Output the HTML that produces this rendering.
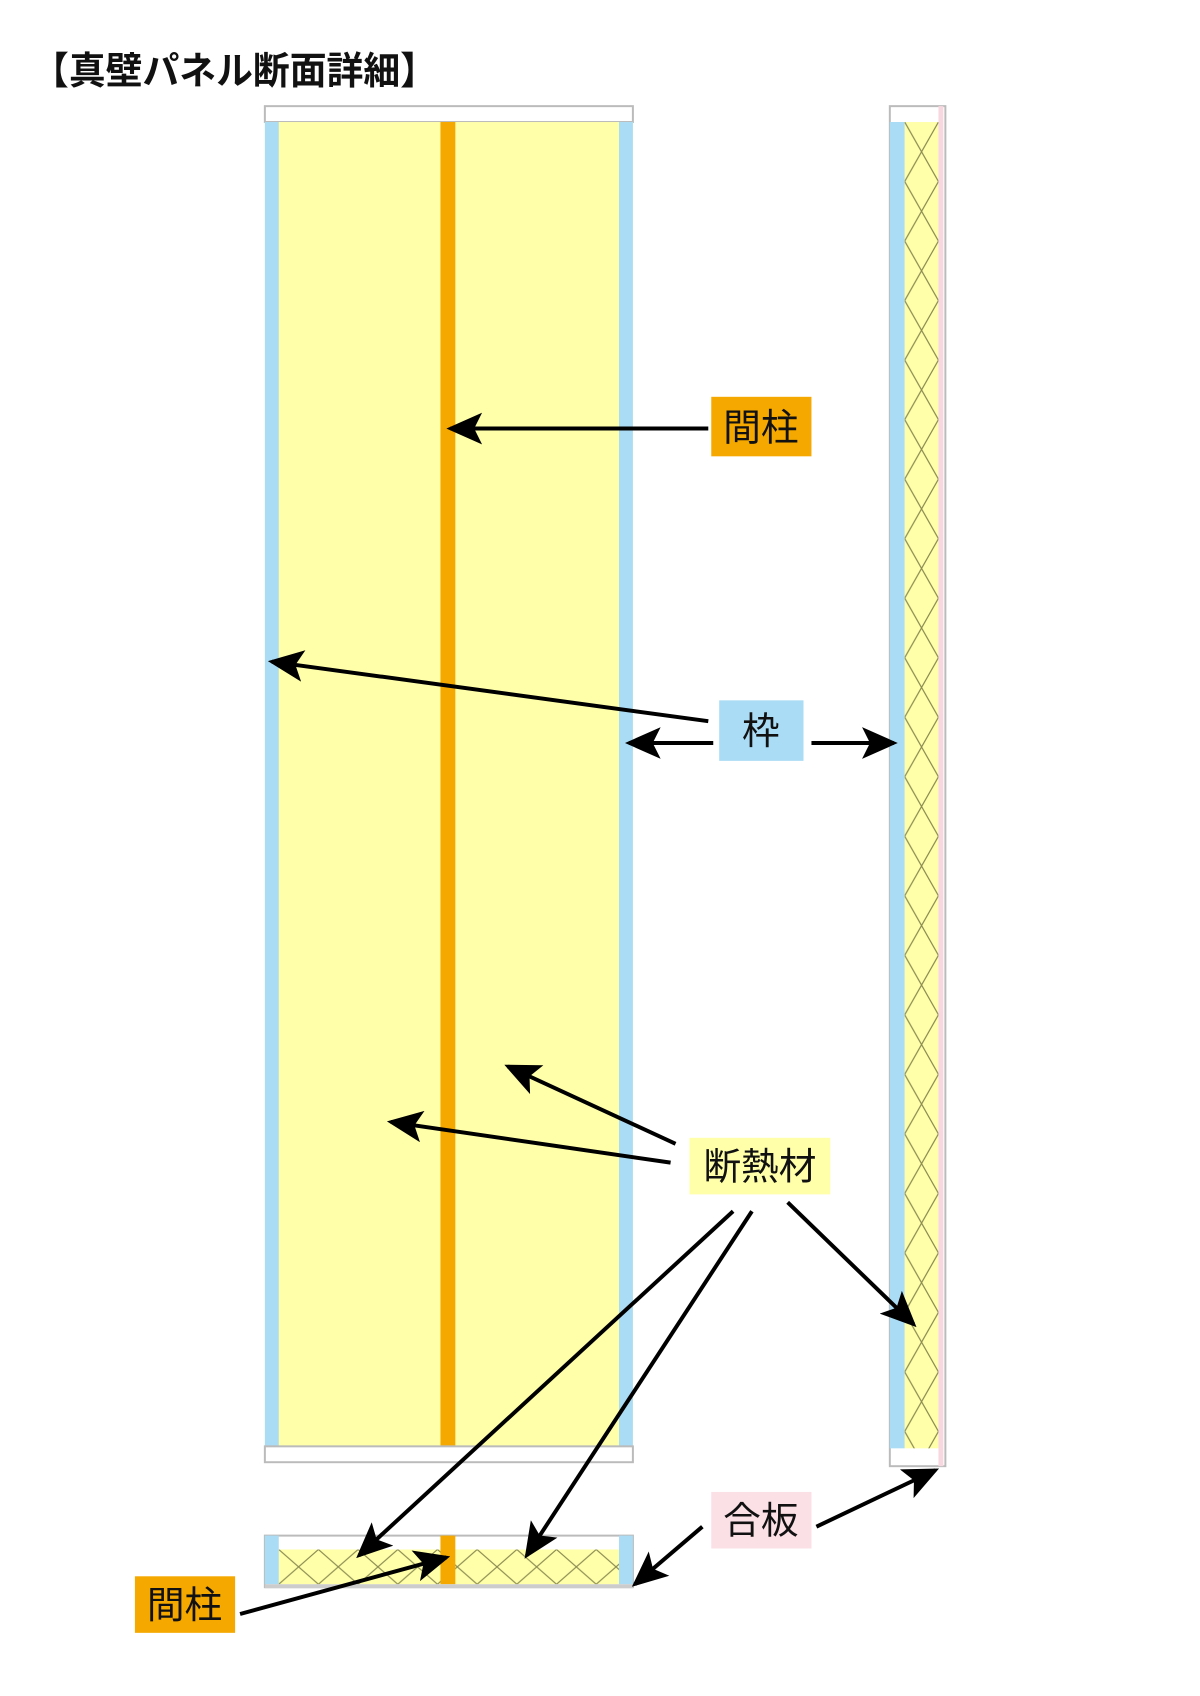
<!DOCTYPE html>
<html><head><meta charset="utf-8"><style>
html,body{margin:0;padding:0;background:#fff;width:1200px;height:1696px;overflow:hidden}
svg{display:block}
text{font-family:"Liberation Sans","Noto Sans CJK JP",sans-serif}
</style></head><body>
<svg width="1200" height="1696" viewBox="0 0 1200 1696" xmlns="http://www.w3.org/2000/svg">
<defs>
<marker id="ah" markerWidth="9" markerHeight="8" refX="8" refY="4" orient="auto" markerUnits="strokeWidth">
<path d="M0,0 L9,4 L0,8 L2,4 z" fill="#000"/>
</marker>
<pattern id="hv" width="34" height="60" patternUnits="userSpaceOnUse" x="912" y="123">
<path d="M0,0 L34,60 M34,0 L0,60" stroke="#8a8a50" stroke-width="1.2" fill="none"/>
</pattern>
<pattern id="hh" width="40" height="35" patternUnits="userSpaceOnUse" x="281" y="1562">
<path d="M0,0 L40,35 M40,0 L0,35" stroke="#8a8a50" stroke-width="1.2" fill="none"/>
</pattern>
</defs>
<text x="32" y="84" font-size="38" font-weight="bold" fill="#111" textLength="405" lengthAdjust="spacingAndGlyphs">【真壁パネル断面詳細】</text>

<g transform="scale(0.992)">
<!-- main panel -->
<rect x="267" y="107" width="371" height="16" fill="#fff" stroke="#bbb" stroke-width="2"/>
<rect x="267" y="123" width="371" height="1335" fill="#ffffaa"/>
<rect x="267" y="123" width="14" height="1335" fill="#aadcf5"/>
<rect x="624" y="123" width="14" height="1335" fill="#aadcf5"/>
<rect x="444" y="123" width="15" height="1335" fill="#f5a800"/>
<rect x="267" y="1458" width="371" height="16" fill="#fff" stroke="#bbb" stroke-width="2"/>

<!-- right panel -->
<rect x="897" y="107" width="56" height="1371" fill="#fff" stroke="#bbb" stroke-width="2"/>
<rect x="897" y="123" width="15" height="1337" fill="#aadcf5"/>
<rect x="912" y="123" width="34" height="1337" fill="#ffffaa"/>
<rect x="912" y="123" width="34" height="1337" fill="url(#hv)"/>
<rect x="946" y="107" width="5" height="1371" fill="#f8d8e0"/>

<!-- lower section -->
<rect x="267" y="1548" width="371" height="52" fill="#fff" stroke="#bbb" stroke-width="2"/>
<rect x="281" y="1562" width="343" height="35" fill="#ffffaa"/>
<rect x="281" y="1562" width="343" height="35" fill="url(#hh)"/>
<rect x="267" y="1548" width="14" height="49" fill="#aadcf5"/>
<rect x="624" y="1548" width="14" height="49" fill="#aadcf5"/>
<rect x="444" y="1548" width="15" height="49" fill="#f5a800"/>
<rect x="267" y="1597" width="371" height="4" fill="#ccc"/>

<!-- labels -->
<rect x="717" y="400" width="101" height="60" fill="#f5a800"/>
<text x="767" y="444" font-size="38" text-anchor="middle" fill="#111">間柱</text>
<rect x="725" y="706" width="85" height="61" fill="#aadcf5"/>
<text x="767" y="750" font-size="38" text-anchor="middle" fill="#111">枠</text>
<rect x="695" y="1147" width="142" height="57" fill="#ffffaa"/>
<text x="766" y="1189" font-size="38" text-anchor="middle" fill="#111">断熱材</text>
<rect x="717" y="1504" width="101" height="57" fill="#fbe0e6"/>
<text x="767" y="1546" font-size="38" text-anchor="middle" fill="#111">合板</text>
<rect x="136" y="1589" width="101" height="57" fill="#f5a800"/>
<text x="186" y="1631" font-size="38" text-anchor="middle" fill="#111">間柱</text>

<!-- arrows -->
<g stroke="#000" stroke-width="4" fill="none" marker-end="url(#ah)">
<line x1="714" y1="432" x2="454" y2="432"/>
<line x1="714" y1="727" x2="274" y2="667"/>
<line x1="719" y1="749" x2="634" y2="749"/>
<line x1="818" y1="749" x2="901" y2="749"/>
<line x1="681" y1="1153" x2="512" y2="1075"/>
<line x1="676" y1="1172" x2="394" y2="1131"/>
<line x1="739" y1="1221" x2="362" y2="1568"/>
<line x1="758" y1="1221" x2="531" y2="1568"/>
<line x1="794" y1="1212" x2="921" y2="1335"/>
<line x1="708" y1="1539" x2="640" y2="1597"/>
<line x1="823" y1="1539" x2="943" y2="1482"/>
<line x1="242" y1="1627" x2="450" y2="1570"/>
</g>
</g>
</svg>
</body></html>
